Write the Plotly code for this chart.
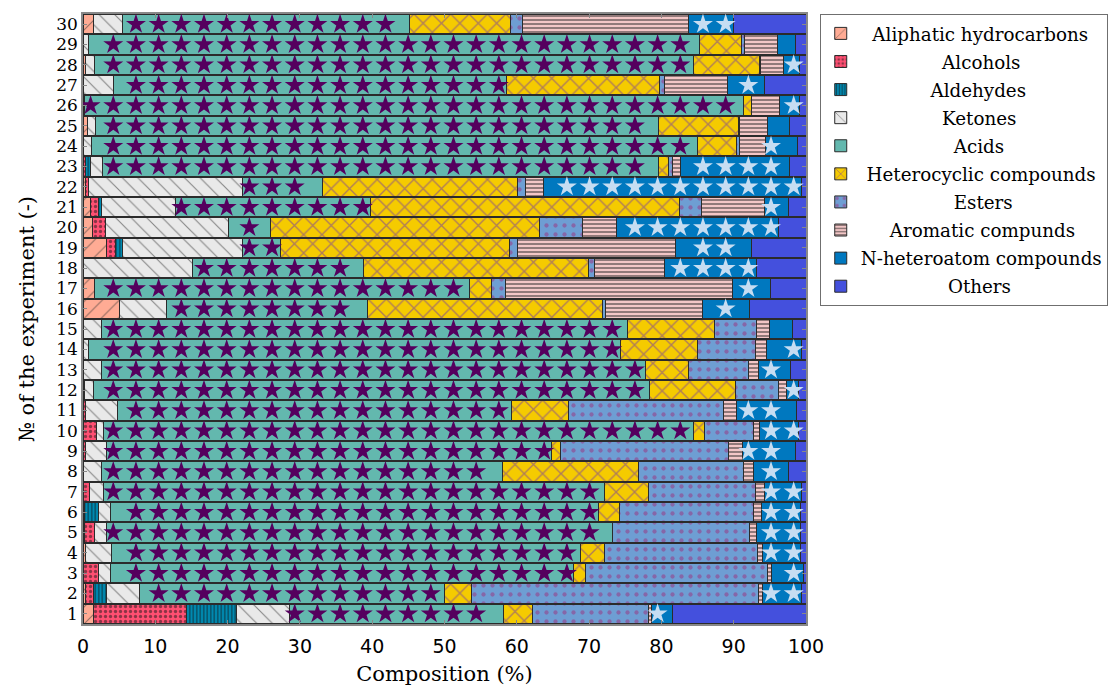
import plotly.graph_objects as go
import numpy as np

experiments = list(range(1, 31))

categories = ["Aliphatic hydrocarbons", "Alcohols", "Aldehydes", "Ketones", "Acids",
              "Heterocyclic compounds", "Esters", "Aromatic compunds",
              "N-heteroatom compounds", "Others"]

aliphatic = [1.4, 0.4, 0.0, 0.4, 0.2, 0.2, 0.0, 0.0, 0.0, 0.0,
             0.0, 0.2, 0.0, 0.0, 0.0, 5.0, 1.6, 0.0, 3.3, 1.3,
             1.1, 0.3, 0.0, 0.0, 0.6, 0.0, 0.0, 0.3, 0.0, 1.5]
alcohols = [12.9, 1.1, 2.2, 0.0, 1.4, 0.0, 0.9, 0.0, 0.4, 1.8,
            0.3, 0.0, 0.0, 0.0, 0.0, 0.0, 0.0, 0.0, 1.2, 1.8,
            1.1, 0.5, 0.3, 0.0, 0.0, 0.0, 0.0, 0.0, 0.0, 0.0]
aldehydes = [6.9, 1.8, 0.0, 0.0, 0.0, 1.9, 0.0, 0.0, 0.0, 0.0,
             0.0, 0.0, 0.0, 0.0, 0.0, 0.0, 0.0, 0.0, 0.9, 0.0,
             0.4, 0.0, 0.8, 0.0, 0.0, 0.0, 0.0, 0.0, 0.0, 0.0]
ketones = [7.3, 4.5, 1.6, 3.6, 1.7, 1.7, 1.9, 2.6, 2.9, 1.1,
           4.5, 1.2, 2.5, 0.8, 2.6, 6.6, 0.0, 15.1, 16.7, 17.0,
           10.2, 21.2, 1.6, 1.2, 1.1, 0.2, 4.2, 1.3, 0.8, 4.0]
acids = [29.7, 42.2, 64.0, 64.8, 69.9, 67.5, 69.3, 55.4, 61.5, 81.5,
         54.5, 77.0, 75.3, 73.6, 72.7, 27.7, 51.9, 23.7, 5.2, 5.8,
         27.0, 11.1, 76.9, 83.8, 77.9, 91.1, 54.4, 82.8, 84.5, 39.7]
heterocyclic = [4.0, 3.8, 1.7, 3.3, 0.0, 2.9, 6.1, 18.9, 1.2, 1.5,
                7.8, 11.9, 6.0, 10.6, 12.0, 32.5, 3.0, 31.1, 31.7, 37.3,
                42.7, 27.0, 1.4, 5.4, 11.0, 1.2, 21.1, 9.2, 5.8, 13.9]
esters = [16.0, 39.6, 25.2, 21.2, 19.0, 18.5, 14.8, 14.5, 23.3, 6.8,
          21.5, 5.9, 8.2, 8.0, 5.9, 0.4, 1.9, 0.9, 1.1, 5.9,
          3.0, 1.1, 0.5, 0.4, 0.2, 0.0, 0.7, 0.1, 0.4, 1.7]
aromatic = [0.4, 0.6, 0.5, 0.7, 0.9, 1.2, 1.2, 1.4, 1.9, 0.9,
            1.8, 1.1, 1.4, 1.6, 1.8, 13.5, 31.4, 9.6, 21.9, 4.7,
            8.8, 2.5, 1.2, 3.6, 3.9, 3.8, 8.8, 3.2, 4.6, 23.0]
n_hetero = [2.9, 5.4, 4.5, 5.3, 6.2, 5.4, 5.2, 4.8, 7.4, 5.4,
            8.3, 1.7, 4.5, 4.8, 3.2, 6.5, 5.3, 12.7, 10.4, 22.4,
            3.3, 35.7, 15.0, 4.4, 3.0, 2.8, 5.0, 2.2, 2.5, 6.2]
others = [18.5, 0.6, 0.3, 0.7, 0.7, 0.7, 0.6, 2.4, 1.4, 1.0,
          1.3, 1.0, 2.1, 0.6, 1.8, 7.8, 4.9, 6.9, 7.6, 3.8,
          2.4, 0.6, 2.3, 1.2, 2.3, 0.9, 5.8, 0.9, 1.4, 10.0]

x_ticks = [0, 10, 20, 30, 40, 50, 60, 70, 80, 90, 100]

series = [aliphatic, alcohols, aldehydes, ketones, acids,
          heterocyclic, esters, aromatic, n_hetero, others]

styles = [
    dict(color="#FFAB94", shape="/", fg="#333333", size=12, sol=0.1),
    dict(color="#FF4F72", shape=".", fg="#1a1a1a", size=5, sol=0.35),
    dict(color="#0089B0", shape="|", fg="#111111", size=3.5, sol=0.4),
    dict(color="#E9E9E9", shape="\\", fg="#222222", size=11, sol=0.1),
    dict(color="#63B8AE", shape="", fg="#5A005F", size=8, sol=0.2),
    dict(color="#F5CB00", shape="x", fg="#6A2FB0", size=13, sol=0.2),
    dict(color="#6E9ED3", shape=".", fg="#9B2F7E", size=9, sol=0.18),
    dict(color="#F3C6C6", shape="-", fg="#1a1a1a", size=4, sol=0.45),
    dict(color="#0078BF", shape="", fg="#C6DDF2", size=8, sol=0.2),
    dict(color="#4450DD", shape="", fg="#000000", size=8, sol=0.2),
]

SERIF = "DejaVu Serif"
SANS = "DejaVu Sans"
LEG_FS = 18.3

# approximate advance widths (per 1000 em) used to centre legend labels
W = {"a": 596, "b": 640, "c": 560, "d": 640, "e": 592, "f": 370, "g": 640, "h": 644,
     "i": 320, "j": 310, "k": 606, "l": 320, "m": 948, "n": 644, "o": 602, "p": 640,
     "q": 640, "r": 478, "s": 513, "t": 402, "u": 644, "v": 565, "w": 856, "x": 564,
     "y": 565, "z": 523, "A": 722, "K": 715, "H": 837, "E": 683, "N": 837, "O": 787,
     "-": 338, " ": 318}
NBSP = 318


def tw(s):
    return sum(W.get(c, 600) for c in s)


maxw = max(tw(c) for c in categories)


def centred(s):
    n = int(round((maxw - tw(s)) / 2 / NBSP))
    return "\u00a0" * n + s


fig = go.Figure()
for k, (name, vals, st) in enumerate(zip(categories, series, styles)):
    fig.add_trace(go.Bar(
        y=experiments, x=vals, name=centred(name), orientation="h", width=0.94,
        legendgroup=f"g{k}",
        marker=dict(color=st["color"], line=dict(color="#2b2b2b", width=1),
                    pattern=dict(shape=st["shape"], fgcolor=st["fg"],
                                 size=st["size"], solidity=st["sol"])),
        hovertemplate=name + ": %{x}%<extra></extra>",
    ))

# star hatch overlay for Acids and N-heteroatom compounds (regular grid)
period = 3.137
offset = 1.05
grid = offset + period * np.arange(0, 40)
cum = np.zeros(30)
starts = []
for vals in series:
    starts.append(cum.copy())
    cum = cum + np.array(vals)


def star_points(idx):
    xs, ys = [], []
    s = starts[idx]
    e = s + np.array(series[idx])
    for i in range(30):
        for g in grid:
            if s[i] + 0.7 < g < e[i] - 0.7:
                xs.append(g)
                ys.append(experiments[i])
    return xs, ys


for idx, col in [(4, "#55005E"), (8, "#C6DDF2")]:
    xs, ys = star_points(idx)
    fig.add_trace(go.Scatter(
        x=xs, y=ys, mode="markers", showlegend=False, hoverinfo="skip",
        legendgroup=f"g{idx}",
        marker=dict(symbol="star", size=15, color=col, line=dict(width=0)),
    ))

fig.update_layout(
    barmode="stack",
    bargap=0.06,
    width=1116, height=686,
    margin=dict(l=83, r=310, t=14, b=62, autoexpand=False),
    plot_bgcolor="white", paper_bgcolor="white",
    font=dict(family=SERIF, size=21, color="#000000"),
    legend=dict(
        x=1.019, y=1.0, xanchor="left", yanchor="top",
        traceorder="grouped",
        bordercolor="#6f6f6f", borderwidth=1,
        font=dict(family=SERIF, size=LEG_FS),
        itemwidth=30, tracegroupgap=1.3,
    ),
)
fig.update_xaxes(
    range=[0, 100], tickvals=x_ticks, ticks="inside", ticklen=4,
    tickcolor="#888888", showline=True, linecolor="#888888", linewidth=1.5,
    mirror="allticks", showgrid=False, zeroline=False,
    title=dict(text="Composition (%)", standoff=14, font=dict(family=SERIF, size=21)),
    tickfont=dict(family=SANS, size=19), ticklabelstandoff=4,
)
fig.update_yaxes(
    range=[0.5, 30.5], tickvals=experiments, ticks="inside", ticklen=4,
    tickcolor="#888888", showline=True, linecolor="#888888", linewidth=1.5,
    mirror="allticks", showgrid=False, zeroline=False,
    title=dict(text="№ of the experiment (-)", standoff=16, font=dict(family=SERIF, size=21)),
    tickfont=dict(family=SERIF, size=17),
)

fig.write_html("out.html")
